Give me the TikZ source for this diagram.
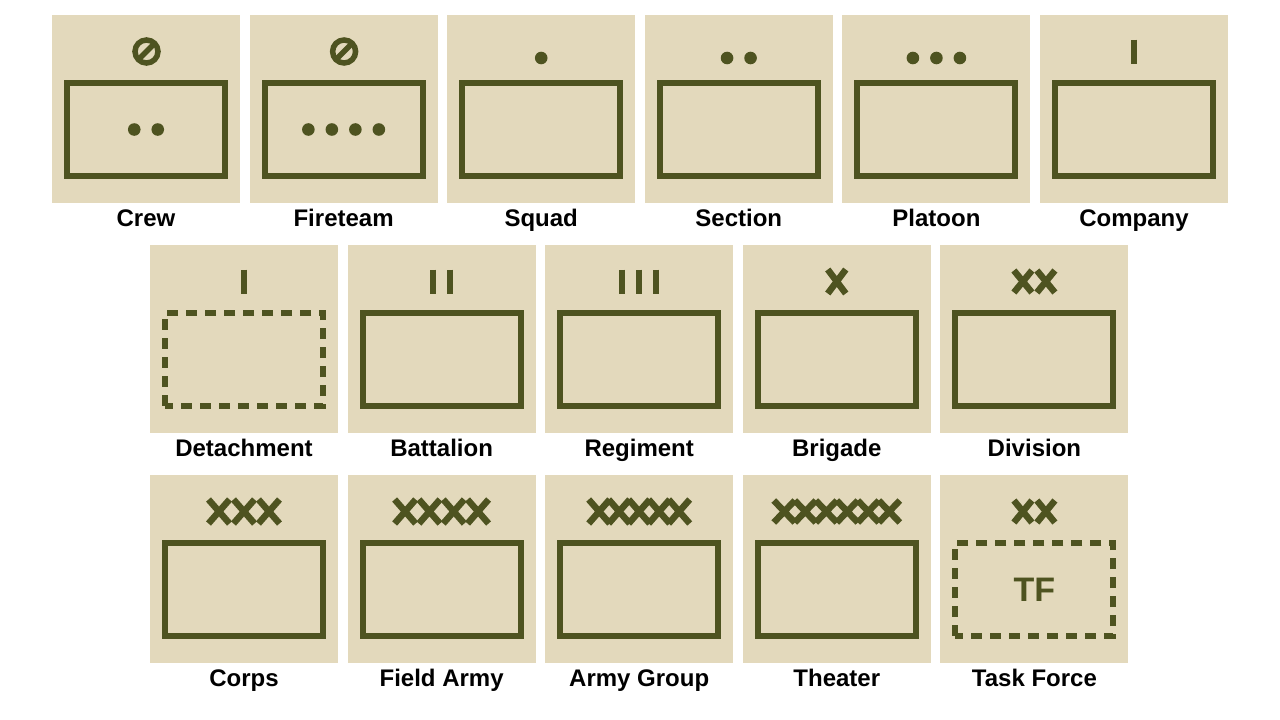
\documentclass[tikz,border=0pt]{standalone}
\usepackage{fontspec}
\setmainfont{Liberation Sans}
\usetikzlibrary{calc}

\definecolor{tilebeige}{HTML}{E3D9BC}
\definecolor{unitolive}{HTML}{4E5320}

\tikzset{
  tile/.style={fill=tilebeige, minimum size=188pt, inner sep=0pt},
  unitframe/.style={draw=unitolive, line width=6pt, minimum width=158pt, minimum height=93pt, inner sep=0pt},
  detframe/.style={unitframe, dash pattern=on 11pt off 8pt, dash phase=3pt},
  unitlabel/.style={anchor=base, font=\bfseries\fontsize{24}{24}\selectfont},
  marksym/.style={draw=unitolive, line width=5.5pt},
  xsym/.style={draw=unitolive, line width=6.5pt},
  dotsym/.style={fill=unitolive},
}

% name, left, top, label, frame style, frame text
\newcommand{\unittile}[6]{%
  \node[tile] (#1) at (#2+94,#3+94) {};
  \node[#5] (#1-f) at (#2+94,#3+114.5) {#6};
  \coordinate (#1-m) at (#2+94,#3+36.5);
  \node[unitlabel] (#1-l) at (#2+94,#3+211) {#4};
}
% echelon marks
\newcommand{\echdots}[3]{%
  \foreach \k in {1,...,#2}
    \fill[dotsym] ($(#1)+({(\k-(#2+1)/2)*23.5},#3)$) circle (6.3pt);
}
\newcommand{\echbars}[2]{%
  \foreach \k in {1,...,#2}
    \draw[marksym, line width=6.5pt] ($(#1)+({(\k-(#2+1)/2)*17},-12)$) -- ++(0,24);
}
% coordinate, count, pitch, half width, half height
\newcommand{\echx}[5]{%
  \foreach \k in {1,...,#2}
    \draw[xsym] ($(#1)+({(\k-(#2+1)/2)*#3-#4},-#5)$) -- ++(2*#4,2*#5) ++(0,-2*#5) -- ++(-2*#4,2*#5);
}

\begin{document}
\begin{tikzpicture}[x=1pt,y=-1pt]
  \fill[white] (0,0) rectangle (1280,720);
  \useasboundingbox (0,0) rectangle (1280,720);

  % row 1
  \unittile{crew}{52}{15}{Crew}{unitframe}{}
  \unittile{fireteam}{249.6}{15}{Fireteam}{unitframe}{}
  \unittile{squad}{447.2}{15}{Squad}{unitframe}{}
  \unittile{section}{644.8}{15}{Section}{unitframe}{}
  \unittile{platoon}{842.4}{15}{Platoon}{unitframe}{}
  \unittile{company}{1040}{15}{Company}{unitframe}{}

  % row 2
  \unittile{detachment}{150}{245}{Detachment}{detframe}{}
  \unittile{battalion}{347.6}{245}{Battalion}{unitframe}{}
  \unittile{regiment}{545.2}{245}{Regiment}{unitframe}{}
  \unittile{brigade}{742.8}{245}{Brigade}{unitframe}{}
  \unittile{division}{940.4}{245}{Division}{unitframe}{}

  % row 3
  \unittile{corps}{150}{475}{Corps}{unitframe}{}
  \unittile{fieldarmy}{347.6}{475}{Field Army}{unitframe}{}
  \unittile{armygroup}{545.2}{475}{Army Group}{unitframe}{}
  \unittile{theater}{742.8}{475}{Theater}{unitframe}{}
  \unittile{taskforce}{940.4}{475}{Task Force}{detframe, text=unitolive, font=\bfseries\fontsize{34}{34}\selectfont}{TF}

  % crew / fireteam symbol
  \foreach \u in {crew,fireteam} {
    \draw[marksym] ($(\u-m)+(0.5,0)$) circle (11.5pt);
    \draw[marksym] ($(\u-m)+(-7.5,8)$) -- ($(\u-m)+(8.5,-8)$);
  }
  \echdots{crew-f}{2}{0}
  \echdots{fireteam-f}{4}{0}

  \echdots{squad-m}{1}{6.5}
  \echdots{section-m}{2}{6.5}
  \echdots{platoon-m}{3}{6.5}
  \echbars{company-m}{1}

  \echbars{detachment-m}{1}
  \echbars{battalion-m}{2}
  \echbars{regiment-m}{3}
  \echx{brigade-m}{1}{0}{9}{12}
  \echx{division-m}{2}{23}{9}{11}

  \echx{corps-m}{3}{25}{10.5}{12}
  \echx{fieldarmy-m}{4}{24.3}{10.5}{12}
  \echx{armygroup-m}{5}{20}{10.5}{12}
  \echx{theater-m}{6}{21}{10.5}{11}
  \echx{taskforce-m}{2}{23}{9}{11}
\end{tikzpicture}
\end{document}
